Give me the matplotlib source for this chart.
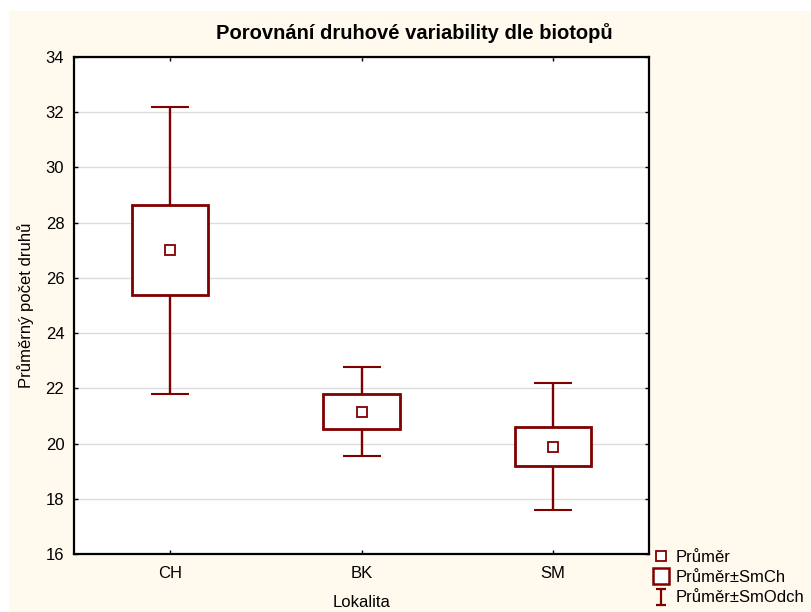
import matplotlib
matplotlib.use("Agg")
import matplotlib.pyplot as plt
from matplotlib.patches import Rectangle
from matplotlib.lines import Line2D
from matplotlib.path import Path
import numpy as np

plt.rcParams['font.family'] = ['Liberation Sans', 'DejaVu Sans']

# Mean number of species per locality, with standard error and standard deviation
lokality = ["CH", "BK", "SM"]
prumer = [27.0, 21.16, 19.89]
sm_chyba = [1.63, 0.64, 0.71]
sm_odchylka = [5.19, 1.60, 2.29]

yticks = [16, 18, 20, 22, 24, 26, 28, 30, 32, 34]

maroon = "#800000"

fig = plt.figure(figsize=(8.11, 6.12), dpi=100)
fig.patch.set_facecolor("white")
fig.patches.append(Rectangle((9 / 811, 0), 1 - 9 / 811, (612 - 11) / 612,
                             transform=fig.transFigure, facecolor="#FFF9EE",
                             edgecolor="none", zorder=-10))

ax = fig.add_axes([74 / 811, (612 - 554) / 612, (649 - 74) / 811, (554 - 57) / 612])
ax.set_facecolor("white")

x = np.arange(1, len(lokality) + 1)
m = np.array(prumer)
se = np.array(sm_chyba)
sd = np.array(sm_odchylka)

# whiskers: mean ± SD
ax.errorbar(x, m, yerr=sd, fmt="none", ecolor=maroon, elinewidth=1.7,
            capsize=14, capthick=1.5, zorder=2)
# boxes: mean ± SE
ax.bar(x, 2 * se, bottom=m - se, width=0.40, facecolor="white",
       edgecolor=maroon, linewidth=2.0, zorder=3)
# mean markers
ax.plot(x, m, ls="none", marker="s", ms=7, mfc="white", mec=maroon, mew=1.3, zorder=4)

ax.set_xlim(0.5, 3.5)
ax.set_ylim(16, 34)
ax.set_yticks(yticks)
ax.set_xticks(x)
ax.set_xticklabels(lokality)
ax.yaxis.grid(True, color="#DCDCDC", linewidth=1.0)
ax.set_axisbelow(True)

ax.tick_params(direction="in", length=3, width=1, top=True, right=True,
               labelsize=12, colors="black")
ax.tick_params(axis="x", pad=9)
ax.tick_params(axis="y", pad=7)
for s in ax.spines.values():
    s.set_linewidth(1.6)
    s.set_color("black")

ax.set_xlabel("Lokalita", fontsize=12, labelpad=10)
ax.set_ylabel("Průměrný počet druhů", fontsize=12, labelpad=8)
fig.text(414 / 811, 1 - 33 / 612, "Porovnání druhové variability dle biotopů",
         ha="center", va="center", fontsize=14.5, fontweight="bold")

# I-beam glyph for the whisker legend entry
ibeam = Path([(-0.6, 1), (0.6, 1), (0, 1), (0, -1), (-0.6, -1), (0.6, -1)],
             [Path.MOVETO, Path.LINETO, Path.MOVETO, Path.LINETO, Path.MOVETO, Path.LINETO])

h_mean = Line2D([], [], ls="none", marker="s", ms=7, mfc="white", mec=maroon, mew=1.3)
h_box = Line2D([], [], ls="none", marker="s", ms=11, mfc="white", mec=maroon, mew=1.8)
h_sd = Line2D([], [], ls="none", marker=ibeam, ms=11, mfc="none", mec=maroon, mew=1.6)
fig.legend([h_mean, h_box, h_sd], ["Průměr", "Průměr±SmCh", "Průměr±SmOdch"],
           loc="lower left", bbox_to_anchor=(643 / 811, -5 / 612),
           bbox_transform=fig.transFigure, frameon=False, fontsize=12,
           handlelength=0.8, handletextpad=0.45, labelspacing=0.32, borderpad=0.2)

fig.savefig("out.png", dpi=100, facecolor=fig.get_facecolor())
